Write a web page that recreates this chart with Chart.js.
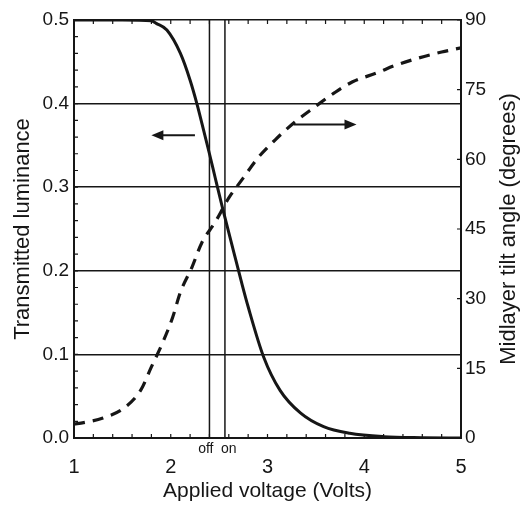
<!DOCTYPE html>
<html>
<head>
<meta charset="utf-8">
<script src="https://cdn.jsdelivr.net/npm/chart.js@4.4.1/dist/chart.umd.min.js"></script>
<style>
  html, body { margin: 0; padding: 0; background: #fff; }
  #chart { display: block; }
</style>
</head>
<body>
<canvas id="chart" width="521" height="510"></canvas>
<script>
// transmitted luminance (left axis, solid)
const lumVoltage = [1.0, 1.5, 1.8, 1.85, 1.96, 2.1, 2.2, 2.27, 2.34, 2.4, 2.46, 2.54, 2.65, 2.73, 2.8, 2.96, 3.13, 3.34, 3.58, 3.85, 4.2, 4.6, 5.0];
const luminance  = [0.5, 0.5, 0.499, 0.496, 0.488, 0.46, 0.428, 0.4, 0.368, 0.34, 0.311, 0.273, 0.223, 0.187, 0.157, 0.097, 0.057, 0.03, 0.0135, 0.0056, 0.0016, 0.0004, 0];

// midlayer tilt angle (right axis, dashed)
const tiltVoltage = [1.0, 1.1, 1.3, 1.52, 1.69, 1.8, 1.92, 2.02, 2.1, 2.22, 2.32, 2.46, 2.6, 2.75, 2.9, 3.08, 3.28, 3.49, 3.69, 3.88, 4.13, 4.33, 4.56, 4.8, 5.0];
const tiltAngle   = [3.0, 3.3, 4.3, 6.5, 10.3, 15.3, 20.7, 26, 31.4, 36.8, 42, 46.5, 51.7, 56, 60.3, 64.2, 68, 71.3, 74.3, 76.7, 78.6, 80.3, 81.8, 83.1, 84];

const voltageTicks = [1, 2, 3, 4, 5];
const lumTicks = [0, 0.1, 0.2, 0.3, 0.4, 0.5];
const angleTicks = [0, 15, 30, 45, 60, 75, 90];

// off / on threshold lines
const markerVoltage = [2.4, 2.56];
const markerLabels = ['off', 'on'];

// arrows pointing to the axis each curve belongs to: [tail, head]
const lumArrowV = [2.25, 1.80];
const lumArrowY = 0.362;
const tiltArrowV = [3.27, 3.92];
const tiltArrowY = 67.5;

const FONT = '"Liberation Sans", Arial, sans-serif';
const INK = '#161616';

function xy(xs, ys) {
    return xs.map((x, i) => ({ x: x, y: ys[i] }));
}

const markerSets = markerVoltage.map(v => ({
    data: [{ x: v, y: 0 }, { x: v, y: 0.5 }],
    yAxisID: 'y',
    borderColor: INK,
    borderWidth: 1.5,
    pointRadius: 0,
}));

function arrow(ctx, x1, y1, x2, y2) {
    const dir = Math.sign(x2 - x1);
    ctx.beginPath();
    ctx.moveTo(x1, y1);
    ctx.lineTo(x2 - dir * 8, y2);
    ctx.stroke();
    ctx.beginPath();
    ctx.moveTo(x2, y2);
    ctx.lineTo(x2 - dir * 12, y2 - 5);
    ctx.lineTo(x2 - dir * 12, y2 + 5);
    ctx.closePath();
    ctx.fill();
}

const extras = {
    id: 'extras',
    afterDatasetsDraw(chart) {
        const ctx = chart.ctx;
        const { x, y, y2 } = chart.scales;
        const area = chart.chartArea;
        ctx.save();
        ctx.strokeStyle = INK;
        ctx.fillStyle = INK;

        // small inward ticks
        ctx.lineWidth = 1.2;
        ctx.beginPath();
        for (let v = 0; v <= 0.5001; v += 0.02) {
            const py = y.getPixelForValue(v);
            ctx.moveTo(area.left, py);
            ctx.lineTo(area.left + 4, py);
        }
        for (let v = 1; v <= 5.001; v += 0.2) {
            const px = x.getPixelForValue(v);
            ctx.moveTo(px, area.bottom);
            ctx.lineTo(px, area.bottom - 4);
            ctx.moveTo(px, area.top);
            ctx.lineTo(px, area.top + 4);
        }
        for (const a of angleTicks) {
            const py = y2.getPixelForValue(a);
            ctx.moveTo(area.right, py);
            ctx.lineTo(area.right - 4, py);
        }
        ctx.stroke();

        // arrows
        ctx.lineWidth = 2;
        arrow(ctx, x.getPixelForValue(lumArrowV[0]), y.getPixelForValue(lumArrowY),
                   x.getPixelForValue(lumArrowV[1]), y.getPixelForValue(lumArrowY));
        arrow(ctx, x.getPixelForValue(tiltArrowV[0]), y2.getPixelForValue(tiltArrowY),
                   x.getPixelForValue(tiltArrowV[1]), y2.getPixelForValue(tiltArrowY));

        // off / on labels under the axis
        ctx.font = '14px ' + FONT;
        ctx.textBaseline = 'middle';
        ctx.textAlign = 'right';
        ctx.fillText(markerLabels[0], x.getPixelForValue(markerVoltage[0]) + 4, area.bottom + 11);
        ctx.textAlign = 'left';
        ctx.fillText(markerLabels[1], x.getPixelForValue(markerVoltage[1]) - 4, area.bottom + 11);

        // right axis title, reading bottom to top
        ctx.font = '22px ' + FONT;
        ctx.textAlign = 'center';
        ctx.translate(chart.width - 12, (area.top + area.bottom) / 2);
        ctx.rotate(-Math.PI / 2);
        ctx.fillText('Midlayer tilt angle (degrees)', 0, 0);
        ctx.restore();
    }
};

new Chart(document.getElementById('chart'), {
    type: 'line',
    data: {
        datasets: [
            {
                data: xy(lumVoltage, luminance),
                yAxisID: 'y',
                borderColor: INK,
                borderWidth: 3,
                pointRadius: 0,
                cubicInterpolationMode: 'monotone',
            },
            {
                data: xy(tiltVoltage, tiltAngle),
                yAxisID: 'y2',
                borderColor: INK,
                borderWidth: 3.2,
                borderDash: [11, 8],
                pointRadius: 0,
                cubicInterpolationMode: 'monotone',
            },
            ...markerSets,
        ],
    },
    options: {
        responsive: false,
        animation: false,
        layout: { padding: { top: 20, left: 0, right: 0, bottom: 0 } },
        plugins: { legend: { display: false }, tooltip: { enabled: false } },
        scales: {
            x: {
                type: 'linear',
                min: 1,
                max: 5,
                afterBuildTicks: s => { s.ticks = voltageTicks.map(v => ({ value: v })); },
                afterFit: s => { s.height = 72; },
                grid: { display: false },
                border: { display: true, color: INK, width: 2 },
                ticks: { color: INK, padding: 9, maxRotation: 0, font: { family: FONT, size: 20 } },
                title: {
                    display: true,
                    text: 'Applied voltage (Volts)',
                    color: INK,
                    font: { family: FONT, size: 21 },
                    padding: { top: 0, bottom: 6 },
                },
            },
            y: {
                position: 'left',
                min: 0,
                max: 0.5,
                afterBuildTicks: s => { s.ticks = lumTicks.map(v => ({ value: v })); },
                afterFit: s => { s.width = 74; },
                grid: { color: INK, lineWidth: 1.5, drawTicks: false },
                border: { display: true, color: INK, width: 2 },
                ticks: {
                    color: INK,
                    padding: 5,
                    font: { family: FONT, size: 19 },
                    callback: v => v.toFixed(1),
                },
                title: {
                    display: true,
                    text: 'Transmitted luminance',
                    color: INK,
                    font: { family: FONT, size: 22 },
                    padding: { top: 10, bottom: 0 },
                },
            },
            y2: {
                position: 'right',
                min: 0,
                max: 90,
                afterBuildTicks: s => { s.ticks = angleTicks.map(v => ({ value: v })); },
                afterFit: s => { s.width = 60; },
                grid: { display: false, drawTicks: false },
                border: { display: true, color: INK, width: 2 },
                ticks: { color: INK, padding: 4, font: { family: FONT, size: 19 } },
            },
        },
    },
    plugins: [extras],
});
</script>
</body>
</html>
